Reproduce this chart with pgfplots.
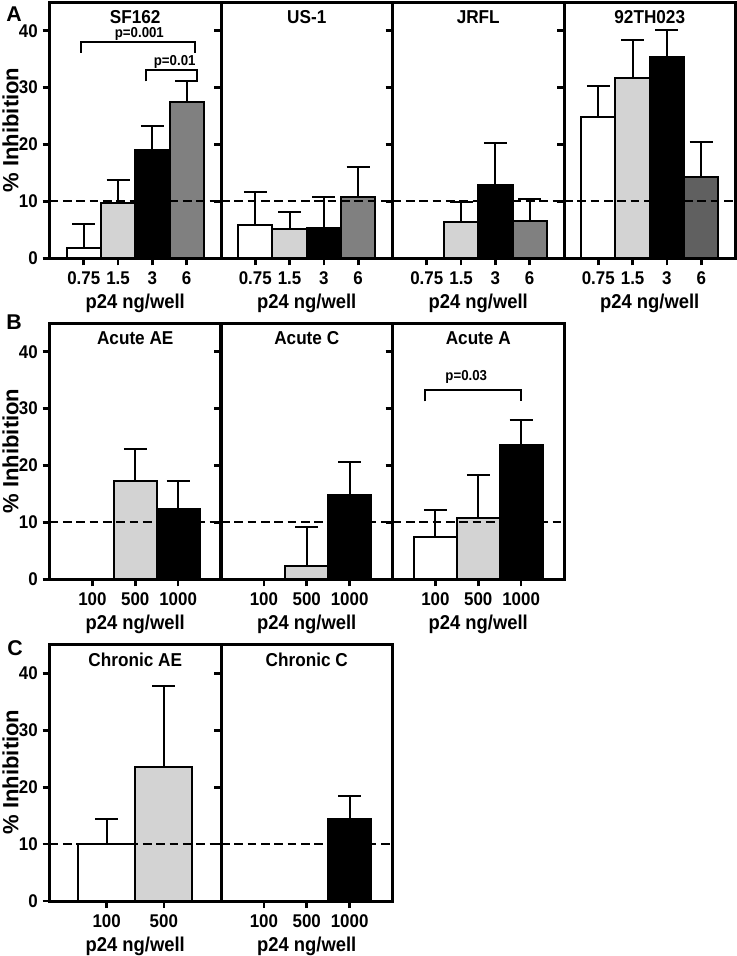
\documentclass[border=0pt]{standalone}
\usepackage{fontspec}
\setmainfont{Liberation Sans}[FakeStretch=0.92]
\newfontfamily\ylfont{Liberation Sans}
\usepackage{pgfplots}
\pgfplotsset{compat=1.18}
\definecolor{lgray}{HTML}{D3D3D3}
\definecolor{mgray}{HTML}{808080}
\definecolor{dgray}{HTML}{606060}
\newcommand{\tickfont}{\bfseries\fontsize{13.8}{15}\selectfont}
\newcommand{\pfont}{\bfseries\fontsize{10.8}{12}\selectfont}
\newcommand{\bb}[4]{\addplot[ybar, bar width=1, bar shift=0, fill=#1, draw=black, line width=1.5pt,
  error bars/.cd, y dir=plus, y explicit, error mark=|,
  error bar style={line width=1.5pt, black, solid},
  error mark options={mark size=8.6pt, line width=1.5pt, black}] coordinates {(#2,#3) +- (0,#4)};}
\newcommand{\bz}[1]{\addplot[ybar, bar width=1, bar shift=0, fill=white, draw=black, line width=1.5pt] coordinates {(#1,0)};}
\newcommand{\thr}[1]{\addplot[black, line width=1.5pt, dash pattern=on 6.5pt off 3.5pt] coordinates {(0,10) (#1,10)};}
\pgfplotsset{
 panel/.style={
  scale only axis, width=128.625pt, height=192pt,
  ymin=0, ymax=45, clip=false, axis on top,
  axis line style={line width=2.25pt},
  tick align=outside, xtick pos=bottom, ytick pos=left,
  major tick length=5.25pt,
  every tick/.append style={line width=2pt, black},
  ytick={0,10,20,30,40}, yticklabels={},
  tick label style={font=\tickfont},
  xticklabel style={yshift=-1.5pt},
  every axis title/.style={at={(axis description cs:0.5,1)}, anchor=base, yshift=-16pt, font=\bfseries\fontsize{14}{16}\selectfont},
  every axis x label/.style={at={(axis description cs:0.5,0)}, anchor=base, yshift=-38pt, font=\bfseries\fontsize{15}{17}\selectfont},
  xlabel={p24 ng/well},
 },
 fourx/.style={xmin=0,xmax=5,xtick={1,2,3,4},xticklabels={0.75,1.5,3,6}},
 threex/.style={xmin=0,xmax=4,xtick={1,2,3},xticklabels={100,500,1000}},
 twox/.style={xmin=0,xmax=3,xtick={1,2},xticklabels={100,500}},
 firstp/.style={yticklabels={0,10,20,30,40}},
}
\begin{document}
\begin{tikzpicture}
\path[use as bounding box] (0,0) rectangle (552pt,717pt);
% ---------------- Row A ----------------
\begin{axis}[panel, fourx, firstp, at={(37.125pt,523.3pt)}, anchor=south west, title={SF162}]
\bb{white}{1}{1.8}{4.2}
\bb{lgray}{2}{9.8}{3.9}
\bb{black}{3}{19.1}{4.2}
\bb{mgray}{4}{27.4}{3.7}
\thr{5}
\draw[line width=1.5pt] (axis cs:0.91,36.1) |- (axis cs:4.24,38.1) -- (axis cs:4.24,36.1);
\node[anchor=base, font=\pfont, inner sep=0pt] at (axis cs:2.62,38.8) {p=0.001};
\draw[line width=1.5pt] (axis cs:2.80,31.1) |- (axis cs:4.29,33.1) -- (axis cs:4.29,31.1);
\node[anchor=base, font=\pfont, inner sep=0pt] at (axis cs:3.65,33.8) {p=0.01};
\end{axis}
\begin{axis}[panel, fourx, at={(165.75pt,523.3pt)}, anchor=south west, title={US-1}]
\bb{white}{1}{5.8}{5.8}
\bb{lgray}{2}{5.1}{3.1}
\bb{black}{3}{5.4}{5.3}
\bb{mgray}{4}{10.8}{5.2}
\thr{5}
\end{axis}
\begin{axis}[panel, fourx, at={(294.375pt,523.3pt)}, anchor=south west, title={JRFL}]
\bz{1}
\bb{lgray}{2}{6.4}{3.5}
\bb{black}{3}{12.9}{7.3}
\bb{mgray}{4}{6.5}{3.9}
\thr{5}
\end{axis}
\begin{axis}[panel, fourx, at={(423pt,523.3pt)}, anchor=south west, title={92TH023}]
\bb{white}{1}{24.8}{5.4}
\bb{lgray}{2}{31.7}{6.7}
\bb{black}{3}{35.3}{4.9}
\bb{dgray}{4}{14.3}{6.2}
\thr{5}
\end{axis}
% ---------------- Row B ----------------
\begin{axis}[panel, threex, firstp, at={(37.125pt,282.5pt)}, anchor=south west, title={Acute AE}]
\bz{1}
\bb{lgray}{2}{17.3}{5.6}
\bb{black}{3}{12.3}{4.9}
\thr{4}
\end{axis}
\begin{axis}[panel, threex, at={(165.75pt,282.5pt)}, anchor=south west, title={Acute C}]
\bz{1}
\bb{lgray}{2}{2.4}{6.8}
\bb{black}{3}{14.9}{5.8}
\thr{4}
\end{axis}
\begin{axis}[panel, threex, at={(294.375pt,282.5pt)}, anchor=south west, title={Acute A}]
\bb{white}{1}{7.5}{4.7}
\bb{lgray}{2}{10.7}{7.6}
\bb{black}{3}{23.7}{4.3}
\thr{4}
\draw[line width=1.5pt] (axis cs:0.75,31.3) |- (axis cs:3.0,33.3) -- (axis cs:3.0,31.3);
\node[anchor=base, font=\pfont, inner sep=0pt] at (axis cs:1.72,34.9) {p=0.03};
\end{axis}
% ---------------- Row C ----------------
\begin{axis}[panel, twox, firstp, at={(37.125pt,41.25pt)}, anchor=south west, title={Chronic AE}]
\bb{white}{1}{10.0}{4.5}
\bb{lgray}{2}{23.5}{14.3}
\thr{3}
\end{axis}
\begin{axis}[panel, threex, at={(165.75pt,41.25pt)}, anchor=south west, title={Chronic C}]
\bz{1}
\bz{2}
\bb{black}{3}{14.4}{4.1}
\thr{4}
\end{axis}
% ---------------- labels ----------------
\node[rotate=90, font=\ylfont\bfseries\fontsize{16.5}{18}\selectfont] at (7.8pt,619.5pt) {\% Inhibition};
\node[rotate=90, font=\ylfont\bfseries\fontsize{16.5}{18}\selectfont] at (7.8pt,378.75pt) {\% Inhibition};
\node[rotate=90, font=\ylfont\bfseries\fontsize{16.5}{18}\selectfont] at (7.8pt,138pt) {\% Inhibition};
\node[font=\ylfont\bfseries\fontsize{16}{18}\selectfont] at (10.6pt,706.5pt) {A};
\node[font=\ylfont\bfseries\fontsize{16}{18}\selectfont] at (10.6pt,475pt) {B};
\node[font=\ylfont\bfseries\fontsize{16}{18}\selectfont] at (11.25pt,230.6pt) {C};
\end{tikzpicture}
\end{document}
